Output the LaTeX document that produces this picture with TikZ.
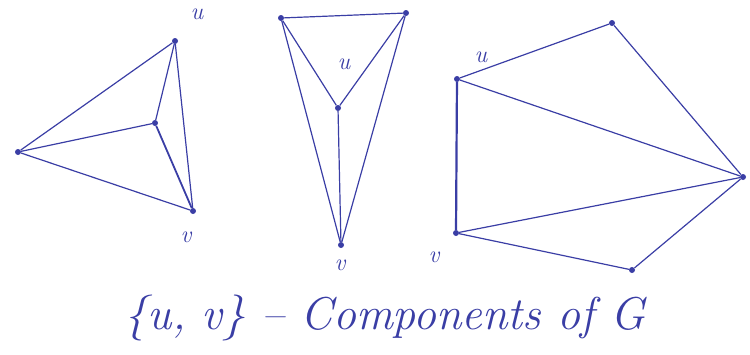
\documentclass[tikz,border=0pt]{standalone}
\begin{document}
\begin{tikzpicture}[x=1pt,y=-1pt,
  ink/.style={draw=inkc, line width=1.2pt},
  vtx/.style={circle, fill=inkc, inner sep=0pt, minimum size=6pt},
  lbl/.style={text=inkc, font=\fontsize{24}{26}\selectfont\itshape},
  capt/.style={text=inkc, font=\fontsize{46}{50}\selectfont\itshape}]
\definecolor{inkc}{RGB}{58,62,165}
\useasboundingbox (0,0) rectangle (750,354);
% graph 1
\node[vtx] (a1) at (175,41) {};
\node[vtx] (a2) at (155,123) {};
\node[vtx] (a3) at (18,152) {};
\node[vtx] (a4) at (193,211) {};
\draw[ink] (a3) -- (a1);
\draw[ink] (a3) -- (a2);
\draw[ink] (a3) -- (a4);
\draw[ink] (a1) -- (a2);
\draw[ink] (a1) -- (a4);
\draw[ink, line width=1.8pt] (a2) -- (a4);
\node[lbl] (la1) at (197,14) {u};
\node[lbl] (la4) at (186,237) {v};
% graph 2
\node[vtx] (b1) at (281,18) {};
\node[vtx] (b2) at (406,13) {};
\node[vtx] (b3) at (338,108) {};
\node[vtx] (b4) at (341,245) {};
\draw[ink] (b1) -- (b2);
\draw[ink] (b1) -- (b3);
\draw[ink] (b2) -- (b3);
\draw[ink] (b1) -- (b4);
\draw[ink] (b2) -- (b4);
\draw[ink] (b3) -- (b4);
\node[lbl] (lb3) at (344,64) {u};
\node[lbl] (lb4) at (340,265) {v};
% graph 3
\node[vtx] (c1) at (457,79) {};
\node[vtx] (c2) at (612,23) {};
\node[vtx] (c3) at (743,177) {};
\node[vtx] (c4) at (456,233) {};
\node[vtx] (c5) at (632,270) {};
\draw[ink] (c1) -- (c2);
\draw[ink] (c2) -- (c3);
\draw[ink] (c1) -- (c3);
\draw[ink, line width=2.2pt] (c1) -- (c4);
\draw[ink] (c4) -- (c3);
\draw[ink] (c4) -- (c5);
\draw[ink] (c5) -- (c3);
\node[lbl] (lc1) at (481,57) {u};
\node[lbl] (lc4) at (434,257) {v};
% caption
\node[capt] (cap) at (385,318) {\{u, v\} -- Components of G};
\end{tikzpicture}
\end{document}
